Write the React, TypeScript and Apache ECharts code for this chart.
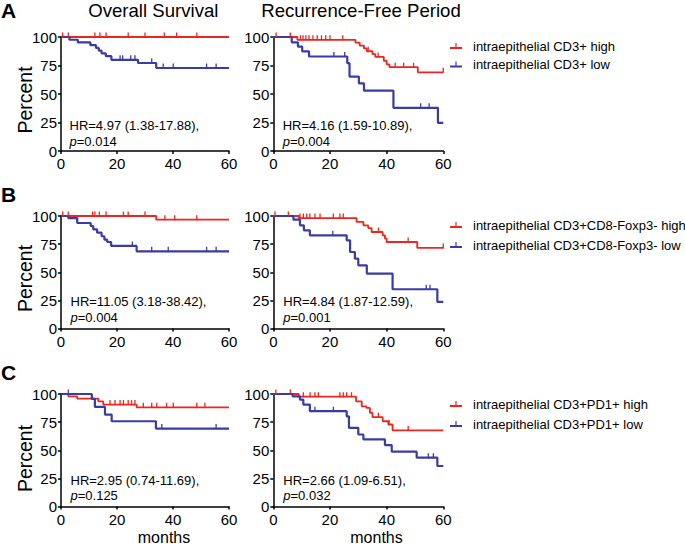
import React, { useEffect, useRef } from 'react';
import * as echarts from 'echarts';

const RED = '#e8271f';
const BLUE = '#3b3ba6';
const FONT = '"Liberation Sans", Arial, Helvetica, sans-serif';

const xTicks = [0, 20, 40, 60];
const yTicks = [0, 25, 50, 75, 100];
const panelLetters = ['A', 'B', 'C'];
const columnTitles = ['Overall Survival', 'Recurrence-Free Period'];
const groupNames = [
  ['intraepithelial CD3+ high', 'intraepithelial CD3+ low'],
  ['intraepithelial CD3+CD8-Foxp3- high', 'intraepithelial CD3+CD8-Foxp3- low'],
  ['intraepithelial CD3+PD1+ high', 'intraepithelial CD3+PD1+ low'],
];
const hrTexts = [
  ['HR=4.97 (1.38-17.88),', '0.014'],
  ['HR=4.16 (1.59-10.89),', '0.004'],
  ['HR=11.05 (3.18-38.42),', '0.004'],
  ['HR=4.84 (1.87-12.59),', '0.001'],
  ['HR=2.95 (0.74-11.69),', '0.125'],
  ['HR=2.66 (1.09-6.51),', '0.032'],
];

// Panel A, overall survival
const aOsHighEvents = [[0, 100]];
const aOsHighCensor = [0.6, 2.6, 12.1, 13.9, 16.1, 24, 30, 36.9, 41.3, 48.5];
const aOsLowEvents = [[0, 100], [3, 97.6], [6, 95.2], [10.5, 92.8], [12.5, 90.4], [13.5, 88], [14.5, 85.6], [16, 83.2], [18, 80], [27.5, 77.2], [34, 72.8]];
const aOsLowCensor = [21.1, 22, 24.9, 26.4, 32.4, 36.5, 40.1, 52, 55.4];
// Panel A, recurrence-free
const aRfHighEvents = [[0, 100], [8.5, 97.5], [29, 95], [30.5, 92.5], [32, 90], [33, 87.5], [35, 85], [36, 82.5], [39, 79], [40, 76], [41, 73.5], [51, 69]];
const aRfHighCensor = [1, 6, 9.6, 10.5, 11.5, 12.6, 14, 15.5, 17, 18.5, 20, 24.5, 33.5, 37, 43, 46, 49.5, 60];
const aRfLowEvents = [[0, 100], [6.5, 95.3], [8.7, 91.5], [10.2, 87.4], [12.6, 82.9], [26.1, 77], [26.9, 65.3], [30.2, 59.4], [32, 52.9], [42.4, 37.9], [58.1, 24.7]];
const aRfLowCensor = [21.4, 25.2, 52, 55];
// Panel B, overall survival
const bOsHighEvents = [[0, 100], [34, 96.7]];
const bOsHighCensor = [0.6, 2.6, 11.3, 12.1, 13.7, 16.1, 22.3, 24, 30, 37.1, 40.6, 48.5];
const bOsLowEvents = [[0, 100], [2.6, 98.2], [5.8, 93.8], [10.6, 91.1], [11.5, 88.2], [12.9, 85.2], [14.5, 82], [15.5, 79], [16.5, 76.9], [17.9, 73.4], [27, 68.6]];
const bOsLowCensor = [25.5, 32.4, 38.3, 52, 55.4];
// Panel B, recurrence-free
const bRfHighEvents = [[0, 100], [9, 98.2], [29.4, 94.7], [31.8, 91.7], [33.5, 89.3], [34.7, 85.8], [38.6, 82.8], [39.4, 79.9], [40, 76.9], [50.8, 71.6]];
const bRfHighCensor = [0.6, 5.3, 9.4, 10.6, 11.8, 12.9, 14.7, 16.5, 21.2, 23.5, 24.7, 37.1, 47.6, 60];
const bRfLowEvents = [[0, 100], [7.1, 96.7], [9.4, 91.7], [10.8, 87.3], [12.9, 82.8], [25.9, 78.4], [27.1, 68], [28.8, 62.1], [30, 56.2], [33, 48.8], [42.1, 34.9], [57.9, 23.7]];
const bRfLowCensor = [21, 54, 55.3];
// Panel C, overall survival
const cOsHighEvents = [[0, 100], [2.6, 97.9], [5.8, 95.9], [13.3, 93.5], [15.1, 90.6], [27, 88.2]];
const cOsHighCensor = [17.5, 19.3, 21.1, 22.3, 24, 25.2, 26.4, 29.4, 32.4, 34.2, 37.7, 40.1, 48.5, 51.4];
const cOsLowEvents = [[0, 100], [11, 95.6], [12.1, 88.5], [15.7, 81.7], [18.1, 75.8], [33.9, 69.3]];
const cOsLowCensor = [2.6, 36, 55.4];
// Panel C, recurrence-free
const cRfHighEvents = [[0, 100], [9, 97.6], [29.2, 93.5], [31.2, 89], [32.9, 87.6], [34.1, 83.2], [35, 79.4], [38.6, 75.8], [40.6, 72.9], [42.1, 67.6]];
const cRfHighCensor = [0.9, 6, 10.6, 13, 14.7, 15.9, 23.5, 24.7, 25.9, 27.6, 37.1, 40.9, 47.6];
const cRfLowEvents = [[0, 100], [6.8, 97.9], [9.4, 95], [10.6, 90.6], [12.9, 84.7], [25.9, 80.2], [26.7, 69.9], [30, 64], [31.8, 59.6], [39.4, 54.6], [41.8, 48.7], [50.6, 43.4], [57.9, 36]];
const cRfLowCensor = [14.7, 21.2, 54.7, 56.5];

const FOLLOW_UP_END = 60;

const curves = [
  [[aOsHighEvents, aOsHighCensor], [aOsLowEvents, aOsLowCensor]],
  [[aRfHighEvents, aRfHighCensor], [aRfLowEvents, aRfLowCensor]],
  [[bOsHighEvents, bOsHighCensor], [bOsLowEvents, bOsLowCensor]],
  [[bRfHighEvents, bRfHighCensor], [bRfLowEvents, bRfLowCensor]],
  [[cOsHighEvents, cOsHighCensor], [cOsLowEvents, cOsLowCensor]],
  [[cRfHighEvents, cRfHighCensor], [cRfLowEvents, cRfLowCensor]],
];

function buildCurve(events: number[][], censors: number[], end: number, color: string) {
  const valueAt = (t: number) => {
    let v = events[0][1];
    for (const [et, ev] of events) if (et <= t) v = ev;
    return v;
  };
  const pts: any[] = [];
  events.forEach(([t, s]) => pts.push({ value: [t, s], symbol: 'none', k: 0 }));
  censors.forEach((t) =>
    pts.push({
      value: [t, valueAt(t)],
      symbol: 'rect',
      symbolSize: [1.3, 5],
      symbolOffset: [0, -2],
      itemStyle: { color },
      k: 1,
    })
  );
  pts.push({ value: [end, valueAt(end)], symbol: 'none', k: 2 });
  pts.sort((a, b) => a.value[0] - b.value[0] || a.k - b.k);
  return pts.map(({ k, ...rest }) => rest);
}

const grids = [
  { left: 61, top: 37, width: 168, height: 114 },
  { left: 273.3, top: 37, width: 170, height: 114 },
  { left: 61, top: 216, width: 168, height: 112.5 },
  { left: 273.3, top: 216, width: 170, height: 112.5 },
  { left: 61, top: 394, width: 168, height: 112.5 },
  { left: 273.3, top: 394, width: 170, height: 112.5 },
];

export default function App() {
  const ref = useRef<HTMLDivElement>(null);
  useEffect(() => {
    if (!ref.current) return;
    const chart = echarts.init(ref.current, null, { renderer: 'svg' });
    const axisCommon = {
      axisLine: { show: true, lineStyle: { color: '#000', width: 1.5 } },
      axisTick: { show: true, length: 3, lineStyle: { color: '#000', width: 1.5 } },
      splitLine: { show: false },
    };
    const xAxis = grids.map((_, i) => ({
      type: 'value',
      gridIndex: i,
      min: xTicks[0],
      max: xTicks[xTicks.length - 1],
      interval: xTicks[1] - xTicks[0],
      ...axisCommon,
      axisLabel: { color: '#000', fontSize: 15, fontFamily: FONT, margin: 5 },
    }));
    const yAxis = grids.map((_, i) => ({
      type: 'value',
      gridIndex: i,
      min: yTicks[0],
      max: yTicks[yTicks.length - 1],
      interval: yTicks[1] - yTicks[0],
      ...axisCommon,
      axisLabel: { color: '#000', fontSize: 15, fontFamily: FONT, margin: 4 },
    }));
    const series: any[] = [];
    curves.forEach((pair, i) => {
      const names = groupNames[Math.floor(i / 2)];
      pair.forEach(([ev, ce], j) => {
        const color = j === 0 ? RED : BLUE;
        series.push({
          type: 'line',
          name: names[j],
          xAxisIndex: i,
          yAxisIndex: i,
          step: 'end',
          symbol: 'none',
          showSymbol: true,
          clip: false,
          color,
          lineStyle: { color, width: j === 0 ? 1.8 : 2.2 },
          itemStyle: { color },
          emphasis: { disabled: true },
          data: buildCurve(ev as number[][], ce as number[], FOLLOW_UP_END, color),
        });
      });
    });
    const legendTops = [39, 218, 397];
    const legendGaps = [4.6, 6, 6];
    const legend = groupNames.map((names, i) => ({
      data: names,
      orient: 'vertical',
      left: 450,
      top: legendTops[i],
      padding: 0,
      itemGap: legendGaps[i],
      itemWidth: 12,
      itemHeight: 6,
      selectedMode: false,
      icon: 'path://M0,4h12v2h-12z M5.4,0h1.2v5h-1.2z',
      textStyle: { color: '#000', fontSize: 13, fontFamily: FONT, lineHeight: 14, padding: [0, 0, 0, 6] },
    }));
    const graphic: any[] = [];
    const letterY = [10.5, 194.3, 372.5];
    panelLetters.forEach((l, i) =>
      graphic.push({
        type: 'text', x: 1, y: letterY[i],
        style: { text: l, fontSize: 21, fontWeight: 'bold', fontFamily: FONT, fill: '#000', textAlign: 'left', textVerticalAlign: 'middle' },
      })
    );
    const titleX = [153.3, 361];
    columnTitles.forEach((t, i) =>
      graphic.push({
        type: 'text', x: titleX[i], y: 10.5,
        style: { text: t, fontSize: 18.6, fontFamily: FONT, fill: '#000', textAlign: 'center', textVerticalAlign: 'middle' },
      })
    );
    const percentY = [100, 278.5, 458.5];
    percentY.forEach((y) =>
      graphic.push({
        type: 'text', x: 24.5, y, rotation: Math.PI / 2,
        style: { text: 'Percent', fontSize: 19.5, fontFamily: FONT, fill: '#000', textAlign: 'center', textVerticalAlign: 'middle' },
      })
    );
    const hrX = [69.5, 282.7, 70.5, 283.3, 70.5, 283.3];
    const hrY = [125.7, 125.7, 301.7, 301.7, 480.3, 480.3];
    hrTexts.forEach(([l1, pv], i) => {
      graphic.push({
        type: 'text', x: hrX[i], y: hrY[i],
        style: { text: l1, fontSize: 13, fontFamily: FONT, fill: '#000', textAlign: 'left', textVerticalAlign: 'middle' },
      });
      graphic.push({
        type: 'text', x: hrX[i], y: hrY[i] + 15.3,
        style: {
          text: '{i|p}=' + pv,
          fontSize: 13, fontFamily: FONT, fill: '#000', textAlign: 'left', textVerticalAlign: 'middle',
          rich: { i: { fontStyle: 'italic', fontSize: 13, fontFamily: FONT, fill: '#000' } },
        },
      });
    });
    [164, 376.5].forEach((x) =>
      graphic.push({
        type: 'text', x, y: 537.5,
        style: { text: 'months', fontSize: 16, fontFamily: FONT, fill: '#000', textAlign: 'center', textVerticalAlign: 'middle' },
      })
    );
    chart.setOption({
      animation: false,
      backgroundColor: '#fff',
      textStyle: { fontFamily: FONT },
      grid: grids,
      xAxis,
      yAxis,
      legend,
      series,
      graphic,
    });
    return () => chart.dispose();
  }, []);
  return <div ref={ref} style={{ position: 'fixed', left: 0, top: 0, width: 685, height: 547 }} />;
}
